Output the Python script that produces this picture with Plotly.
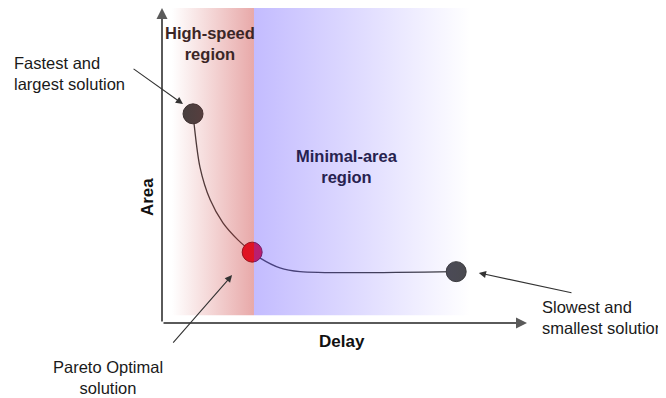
import plotly.graph_objects as go

# ---- data (chart units: delay on x, area on y, axes 0..10) ----
solution_names = ["Fastest and largest", "Pareto optimal", "Slowest and smallest"]
solution_delay = [0.85, 2.47, 8.06]
solution_area = [6.64, 2.25, 1.63]

trade_off_delay = [0.85, 1.04, 1.32, 1.67, 2.08, 2.47, 2.69, 3.23, 3.78, 8.06]
trade_off_area = [6.64, 4.95, 3.91, 3.18, 2.64, 2.25, 2.06, 1.75, 1.63, 1.63]

region_names = ["High-speed<br>region", "Minimal-area<br>region"]
region_delay_start = [0.27, 2.52]
region_delay_end = [2.52, 8.44]
region_area_low = [0.25, 0.25]
region_area_high = [10.0, 10.0]
region_label_delay = [1.32, 5.07]
region_label_area = [8.87, 4.98]

callout_texts = ["Fastest and<br>largest solution", "Pareto Optimal<br>solution",
                 "Slowest and<br>smallest solution"]
callout_delay = [-4.11, -1.48, 10.36]
callout_area = [7.92, -1.74, 0.16]
callout_tip_delay = [0.575, 1.92, 8.68]
callout_tip_area = [6.95, 1.52, 1.59]
callout_tail_delay = [-0.82, 0.27, 11.26]
callout_tail_area = [8.10, -0.67, 0.95]

axis_titles = ["Delay", "Area"]
axis_title_delay = [4.93, -0.41]
axis_title_area = [-0.6, 4.0]

axis_max = 10.0

FONT = "Liberation Sans, Arial, sans-serif"

fig = go.Figure()

# trade-off curve
fig.add_trace(go.Scatter(x=trade_off_delay, y=trade_off_area, mode="lines",
                         line=dict(color="#3a3a3a", width=1.3, shape="spline", smoothing=0.8),
                         hoverinfo="skip", showlegend=False))
# solutions
fig.add_trace(go.Scatter(x=solution_delay, y=solution_area, mode="markers",
                         marker=dict(size=20, color=["#404040", "#ee0018", "#4a4a4f"],
                                     line=dict(color=["#303030", "#7a0010", "#3a3a3a"], width=1)),
                         text=solution_names, hoverinfo="text", showlegend=False))

# translucent gradient regions on top
region_scales = [
    [[0, "rgba(200,50,50,0)"], [1, "rgba(200,50,50,0.42)"]],
    [[0, "rgba(100,80,255,0.385)"], [0.5, "rgba(100,80,255,0.2)"], [1, "rgba(100,80,255,0)"]],
]
for i in range(len(region_names)):
    x0, x1 = region_delay_start[i], region_delay_end[i]
    y0, y1 = region_area_low[i], region_area_high[i]
    fig.add_trace(go.Scatter(x=[x0, x1, x1, x0, x0], y=[y0, y0, y1, y1, y0],
                             mode="none", fill="toself",
                             fillgradient=dict(type="horizontal", colorscale=region_scales[i]),
                             hoverinfo="skip", showlegend=False))


def px(v):
    return v / axis_max


region_colors = ["#3b2626", "#27224f"]
annotations = []
for i in range(len(region_names)):
    annotations.append(dict(x=px(region_label_delay[i]), y=px(region_label_area[i]),
                            text="<b>" + region_names[i] + "</b>",
                            showarrow=False, xref="paper", yref="paper",
                            font=dict(family=FONT, size=16.5, color=region_colors[i]),
                            xanchor="center", yanchor="middle"))

# axes with arrows
annotations.append(dict(x=axis_max, y=0, ax=0, ay=0, xref="x", yref="y", axref="x", ayref="y",
                        text="", showarrow=True, arrowhead=2, arrowsize=1.1, arrowwidth=2,
                        arrowcolor="#5a5a5a"))
annotations.append(dict(x=0, y=axis_max, ax=0, ay=0, xref="x", yref="y", axref="x", ayref="y",
                        text="", showarrow=True, arrowhead=2, arrowsize=1.1, arrowwidth=2,
                        arrowcolor="#5a5a5a"))
for i in range(len(axis_titles)):
    annotations.append(dict(x=px(axis_title_delay[i]), y=px(axis_title_area[i]),
                            xref="paper", yref="paper", text="<b>" + axis_titles[i] + "</b>",
                            showarrow=False, textangle=0 if i == 0 else -90,
                            xanchor="center", yanchor="middle",
                            font=dict(family=FONT, size=17, color="#111")))

# callouts
anchors = ["left", "center", "left"]
for i in range(len(callout_texts)):
    annotations.append(dict(x=px(callout_delay[i]), y=px(callout_area[i]), xref="paper", yref="paper",
                            text=callout_texts[i], showarrow=False, xanchor=anchors[i],
                            align=anchors[i], yanchor="middle",
                            font=dict(family=FONT, size=16.5, color="#1a1a1a")))
    annotations.append(dict(x=callout_tip_delay[i], y=callout_tip_area[i],
                            ax=callout_tail_delay[i], ay=callout_tail_area[i],
                            xref="x", yref="y", axref="x", ayref="y", text="",
                            showarrow=True, arrowhead=2, arrowsize=1.3, arrowwidth=1.1,
                            arrowcolor="#333333"))

fig.update_layout(
    width=658, height=390,
    margin=dict(l=154, r=139, t=0, b=75),
    paper_bgcolor="white", plot_bgcolor="white",
    xaxis=dict(range=[0, axis_max], visible=False, fixedrange=True),
    yaxis=dict(range=[0, axis_max], visible=False, fixedrange=True),
    annotations=annotations,
    showlegend=False,
)

fig.write_html("out.html")
